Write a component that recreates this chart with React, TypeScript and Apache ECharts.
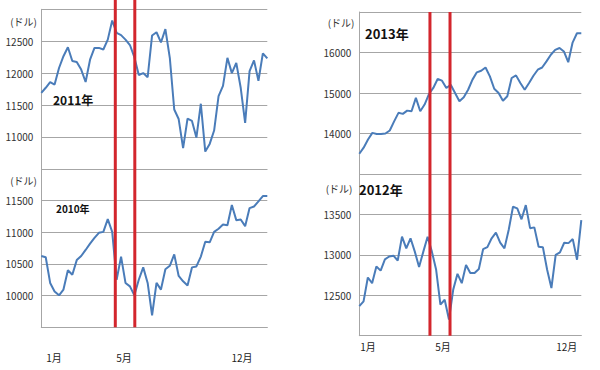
import React, { useEffect, useRef } from "react";
import * as echarts from "echarts";

// Weekly closes of the Dow
const DOW_2011 = [
  11690, 11770, 11860, 11820, 12080, 12265, 12405, 12190, 12175, 12055,
  11860, 12210, 12395, 12395, 12370, 12525, 12825, 12630, 12595, 12525,
  12440, 12250, 11970, 12000, 11935, 12590, 12640, 12480, 12690, 12240,
  11430, 11280, 10825, 11285, 11250, 10990, 11520, 10770, 10890, 11100,
  11640, 11800, 12240, 12000, 12160, 11770, 11220, 12030, 12200, 11880,
  12310, 12230,
];
const DOW_2010 = [
  10625, 10605, 10200, 10065, 10005, 10095, 10400, 10330, 10560, 10625,
  10720, 10820, 10910, 10990, 11005, 11205, 11005, 10250, 10615, 10200,
  10145, 10005, 10250, 10445, 10200, 9690, 10200, 10095, 10415, 10470,
  10650, 10310, 10225, 10160, 10445, 10460, 10615, 10850, 10840, 11005,
  11055, 11120, 11110, 11430, 11190, 11200, 11095, 11380, 11405, 11485,
  11570, 11570,
];
const DOW_2013 = [
  13500, 13650, 13850, 14015, 13990, 13990, 14000, 14075, 14300, 14510,
  14485, 14565, 14550, 14880, 14550, 14715, 14975, 15125, 15345, 15305,
  15125, 15205, 15000, 14795, 14895, 15080, 15330, 15510, 15550, 15630,
  15410, 15105, 15000, 14810, 14920, 15370, 15435, 15245, 15080, 15245,
  15425, 15575, 15630, 15780, 15945, 16065, 16110, 16025, 15760, 16245,
  16475, 16475,
];
const DOW_2012 = [
  12365, 12425, 12720, 12650, 12855, 12805, 12945, 12980, 12990, 12930,
  13225, 13080, 13205, 13040, 12850, 13040, 13225, 13040, 12815, 12385,
  12445, 12200, 12570, 12765, 12650, 12875, 12775, 12775, 12825, 13070,
  13095, 13205, 13275, 13150, 13080, 13310, 13595, 13575, 13440, 13615,
  13330, 13340, 13100, 13095, 12815, 12590, 13000, 13030, 13150, 13145,
  13195, 12940, 13430,
];

const YEAR_LABELS = ["2011年", "2010年", "2013年", "2012年"];
const UNIT_LABEL = "(ドル)";
const MONTH_LABELS = ["1月", "5月", "12月"];
// month label positions, in week index of the bottom panels
const MONTH_POS_LEFT = [2.87, 18.67, 45.3];
const MONTH_POS_RIGHT = [2.04, 19.6, 48.6];
// red lines: start and end of May, in week index
const MAY_LEFT = [16.7, 21.1];
const MAY_RIGHT = [16.55, 21.25];

const Y_MIN = [10500, 9500, 13000, 12000];
const Y_MAX = [13000, 12000, 17000, 14000];
const Y_STEP = [500, 500, 1000, 500];

const FONT = "'Noto Sans CJK JP', 'Noto Sans', sans-serif";
const LINE_COLOR = "#4a7cb9";
const GRID_COLOR = "#a6a6a6";
const RED = "#d3262d";

export default function App() {
  const ref = useRef<HTMLDivElement>(null);

  useEffect(() => {
    if (!ref.current) return;
    const chart = echarts.init(ref.current, null, { renderer: "svg" });
    const series = [DOW_2011, DOW_2010, DOW_2013, DOW_2012];
    const grids = [
      { left: 41.3, top: 9.3, width: 226, height: 159.5 },
      { left: 41.3, top: 168.8, width: 226, height: 158.5 },
      { left: 359.3, top: 12, width: 222, height: 162 },
      { left: 359.3, top: 174, width: 222, height: 161.7 },
    ];
    const monthPos = [null, MONTH_POS_LEFT, null, MONTH_POS_RIGHT];
    const monthMargin = [0, 25, 0, 6];

    const option: any = {
      animation: false,
      grid: grids.map((g) => ({ ...g, containLabel: false, outerBoundsMode: "none" })),
      xAxis: series.map((d, i) => {
        const pos = monthPos[i];
        return {
          type: "value",
          gridIndex: i,
          min: 0,
          max: d.length - 1,
          show: !!pos,
          splitLine: { show: false },
          axisTick: { show: false },
          axisLine: { show: true, lineStyle: { color: GRID_COLOR, width: 1 } },
          axisLabel: pos
            ? {
                customValues: pos,
                margin: monthMargin[i],
                fontSize: 10,
                color: "#222",
                fontFamily: FONT,
                formatter: (v: number) => {
                  let best = 0;
                  pos.forEach((p: number, k: number) => {
                    if (Math.abs(p - v) < Math.abs(pos[best] - v)) best = k;
                  });
                  return MONTH_LABELS[best];
                },
              }
            : { show: false },
        };
      }),
      yAxis: series.map((_, i) => ({
        type: "value",
        gridIndex: i,
        min: Y_MIN[i],
        max: Y_MAX[i],
        interval: Y_STEP[i],
        axisLine: { show: true, lineStyle: { color: GRID_COLOR, width: 1 } },
        axisTick: { show: false },
        splitLine: { show: true, lineStyle: { color: GRID_COLOR, width: 1 } },
        axisLabel: {
          showMinLabel: false,
          showMaxLabel: false,
          fontSize: 10,
          color: "#333",
          fontFamily: FONT,
          margin: 8,
          formatter: (v: number) => String(v),
        },
      })),
      series: series.map((d, i) => ({
        type: "line",
        xAxisIndex: i,
        yAxisIndex: i,
        data: d.map((v, k) => [k, v]),
        symbol: "none",
        lineStyle: { color: LINE_COLOR, width: 2 },
        itemStyle: { color: LINE_COLOR },
      })),
    };
    chart.setOption(option);

    const leftBottom = chart.convertToPixel({ yAxisIndex: 1 }, Y_MIN[1]) as number;
    const rightTop = chart.convertToPixel({ yAxisIndex: 2 }, Y_MAX[2]) as number;
    const rightBottom = chart.convertToPixel({ yAxisIndex: 3 }, Y_MIN[3]) as number;
    const redLines: any[] = [];
    MAY_LEFT.forEach((w) => {
      const x = chart.convertToPixel({ xAxisIndex: 0 }, w) as number;
      redLines.push({
        type: "line",
        z: 100,
        shape: { x1: x, y1: 0, x2: x, y2: leftBottom },
        style: { stroke: RED, lineWidth: 3 },
      });
    });
    MAY_RIGHT.forEach((w) => {
      const x = chart.convertToPixel({ xAxisIndex: 3 }, w) as number;
      redLines.push({
        type: "line",
        z: 100,
        shape: { x1: x, y1: rightTop, x2: x, y2: rightBottom },
        style: { stroke: RED, lineWidth: 3 },
      });
    });

    const unitText = (x: number, y: number) => ({
      type: "text",
      x,
      y,
      z: 50,
      style: {
        text: UNIT_LABEL,
        fontSize: 10,
        fontFamily: FONT,
        fill: "#333",
        align: "center",
        verticalAlign: "middle",
      },
    });
    const yearText = (text: string, x: number, y: number, size: number) => ({
      type: "text",
      x,
      y,
      z: 50,
      style: {
        text,
        fontSize: size,
        fontWeight: "bold",
        fontFamily: FONT,
        fill: "#111",
        align: "left",
        verticalAlign: "middle",
      },
    });

    chart.setOption({
      graphic: [
        ...redLines,
        unitText(23.5, 21),
        unitText(23.5, 180),
        unitText(341, 22),
        unitText(339, 188),
        yearText(YEAR_LABELS[0], 53, 99, 12),
        yearText(YEAR_LABELS[1], 56, 208, 10),
        yearText(YEAR_LABELS[2], 365, 33, 13),
        yearText(YEAR_LABELS[3], 359, 189, 13),
      ],
    });

    return () => chart.dispose();
  }, []);

  return (
    <div
      ref={ref}
      style={{ position: "fixed", left: 0, top: 0, width: 600, height: 370, background: "#fff" }}
    />
  );
}
